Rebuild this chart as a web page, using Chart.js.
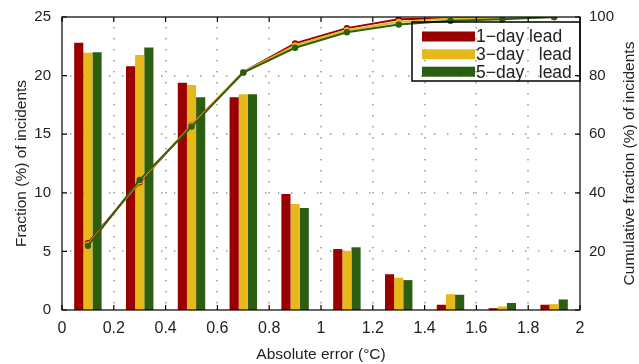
<!DOCTYPE html>
<html><head><meta charset="utf-8">
<script src="https://cdn.jsdelivr.net/npm/chart.js@4/dist/chart.umd.min.js"></script>
<style>html,body{margin:0;padding:0;background:#fff}#wrap{width:639px;height:364px}</style>
</head><body><div id="wrap"><canvas id="c" width="639" height="364"></canvas></div>
<script>
const categories = ['0.1','0.3','0.5','0.7','0.9','1.1','1.3','1.5','1.7','1.9'];
const lead1 = [22.8, 20.8, 19.4, 18.15, 9.9, 5.2, 3.05, 0.45, 0.15, 0.45];
const lead3 = [21.95, 21.75, 19.2, 18.4, 9.05, 5.05, 2.75, 1.35, 0.3, 0.5];
const lead5 = [22.0, 22.4, 18.15, 18.4, 8.7, 5.35, 2.55, 1.3, 0.6, 0.9];
const cum1 = [22.8, 43.6, 63.1, 81.2, 91.0, 96.2, 99.2, 99.6, 99.8, 100];
const cum3 = [22.3, 43.9, 63.0, 81.2, 90.3, 95.5, 98.3, 99.5, 99.7, 100];
const cum5 = [21.9, 44.4, 62.6, 81.0, 89.5, 94.8, 97.4, 98.7, 99.2, 100];
const seriesNames = ['1\u2212day lead', '3\u2212day   lead', '5\u2212day   lead'];
const RED = '#9a0000', YEL = '#e6b81a', GRN = '#2b5e12';
const FONT = 'Liberation Sans, Arial, Helvetica, sans-serif';

const dotGrid = {
  id: 'dotGrid',
  beforeDatasetsDraw(chart) {
    const {ctx, chartArea: a} = chart;
    const xs = chart.scales.x2, ys = chart.scales.y;
    ctx.save();
    ctx.fillStyle = '#8a8a8a';
    xs.ticks.forEach((t, i) => {
      const px = Math.round(xs.getPixelForTick(i));
      if (px <= a.left + 1 || px >= a.right - 1) return;
      for (let y = a.bottom - 8; y > a.top; y -= 11) ctx.fillRect(px - 0.7, y, 1.4, 1.4);
    });
    ys.ticks.forEach((t, i) => {
      const py = Math.round(ys.getPixelForTick(i));
      if (py <= a.top + 1 || py >= a.bottom - 1) return;
      for (let x = a.left + 8; x < a.right; x += 13) ctx.fillRect(x, py - 0.7, 1.4, 1.4);
    });
    ctx.restore();
  }
};

const frame = {
  id: 'frame',
  afterDraw(chart) {
    const {ctx, chartArea: a} = chart;
    ctx.save();
    ctx.strokeStyle = '#000'; ctx.lineWidth = 1.2;
    ctx.strokeRect(a.left, a.top, a.right - a.left, a.bottom - a.top);
    const xs = chart.scales.x2, ys = chart.scales.y;
    ctx.beginPath();
    xs.ticks.forEach((t, i) => {
      const px = xs.getPixelForTick(i);
      ctx.moveTo(px, a.bottom); ctx.lineTo(px, a.bottom - 5);
      ctx.moveTo(px, a.top); ctx.lineTo(px, a.top + 5);
    });
    ys.ticks.forEach((t, i) => {
      const py = ys.getPixelForTick(i);
      ctx.moveTo(a.left, py); ctx.lineTo(a.left + 5, py);
      ctx.moveTo(a.right, py); ctx.lineTo(a.right - 5, py);
    });
    ctx.stroke();
    ctx.fillStyle = '#222';
    ctx.font = '15.5px ' + FONT;
    ctx.translate(630, (a.top + a.bottom) / 2);
    ctx.rotate(-Math.PI / 2);
    ctx.textAlign = 'center'; ctx.textBaseline = 'middle';
    ctx.fillText('Cumulative fraction (%) of incidents', 0, 0);
    ctx.restore();
    // legend
    ctx.save();
    const bx = 412, by = 22, bw = a.right - 412, bh = 59;
    ctx.strokeStyle = '#000'; ctx.lineWidth = 1.5;
    ctx.strokeRect(bx, by, bw, bh);
    const cols = [RED, YEL, GRN];
    const rows = [36.5, 54.3, 71.7];
    ctx.font = '17.5px ' + FONT;
    ctx.textBaseline = 'middle'; ctx.textAlign = 'left';
    rows.forEach((ry, i) => {
      ctx.fillStyle = cols[i];
      ctx.fillRect(422, ry - 5, 53, 10);
      ctx.fillStyle = '#222';
      ctx.fillText(seriesNames[i], 476, ry + 1);
    });
    ctx.restore();
  }
};

const fmt = v => String(Math.round(v * 10) / 10);

new Chart(document.getElementById('c'), {
  type: 'bar',
  data: {
    labels: categories,
    datasets: [
      { type: 'line', label: seriesNames[0] + ' cum', data: cum1, yAxisID: 'y2', borderColor: RED, backgroundColor: RED, borderWidth: 2, pointRadius: 2.2, pointBackgroundColor: RED, tension: 0, order: 3 },
      { type: 'line', label: seriesNames[1] + ' cum', data: cum3, yAxisID: 'y2', borderColor: YEL, backgroundColor: YEL, borderWidth: 2, pointRadius: 2.2, pointBackgroundColor: YEL, tension: 0, order: 2 },
      { type: 'line', label: seriesNames[2] + ' cum', data: cum5, yAxisID: 'y2', borderColor: GRN, backgroundColor: GRN, borderWidth: 2, pointRadius: 2.2, pointBackgroundColor: GRN, tension: 0, order: 1 },
      { label: seriesNames[0], data: lead1, yAxisID: 'y', backgroundColor: RED, categoryPercentage: 0.53, barPercentage: 1.0, order: 10 },
      { label: seriesNames[1], data: lead3, yAxisID: 'y', backgroundColor: YEL, categoryPercentage: 0.53, barPercentage: 1.0, order: 10 },
      { label: seriesNames[2], data: lead5, yAxisID: 'y', backgroundColor: GRN, categoryPercentage: 0.53, barPercentage: 1.0, order: 10 }
    ]
  },
  options: {
    responsive: false,
    animation: false,
    layout: { padding: { top: 17, left: 0, right: 0, bottom: 0 } },
    plugins: { legend: { display: false }, tooltip: { enabled: false } },
    scales: {
      x: { type: 'category', display: false, offset: true, grid: { display: false } },
      x2: {
        type: 'linear', position: 'bottom', min: 0, max: 2, offset: false,
        ticks: { stepSize: 0.2, color: '#222', font: { family: FONT, size: 16 }, padding: 9, maxRotation: 0, autoSkip: false, callback: fmt },
        grid: { display: false, drawTicks: false },
        border: { display: false },
        title: { display: true, text: 'Absolute error (\u00B0C)', color: '#222', font: { family: FONT, size: 15.5 }, padding: { top: 4, bottom: 0 } },
        afterFit(s) { s.height = 54; }
      },
      y: {
        type: 'linear', position: 'left', min: 0, max: 25,
        ticks: { stepSize: 5, color: '#222', font: { family: FONT, size: 15 }, padding: 11 },
        grid: { display: false, drawTicks: false },
        border: { display: false },
        title: { display: true, text: 'Fraction (%) of incidents', color: '#222', font: { family: FONT, size: 15.5 }, padding: { top: 12, bottom: 0 } },
        afterFit(s) { s.width = 62; s.paddingTop = 0; s.paddingBottom = 0; }
      },
      y2: {
        type: 'linear', position: 'right', min: 0, max: 100,
        ticks: { stepSize: 20, color: '#222', font: { family: FONT, size: 15 }, padding: 9,
          callback: v => v === 0 ? '' : v },
        grid: { display: false, drawTicks: false },
        border: { display: false },
        afterFit(s) { s.width = 59; s.paddingTop = 0; s.paddingBottom = 0; }
      }
    }
  },
  plugins: [dotGrid, frame]
});
</script></body></html>
